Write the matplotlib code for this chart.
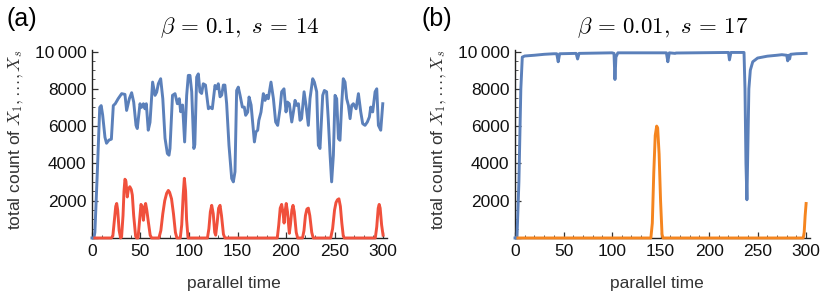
import numpy as np
import matplotlib
matplotlib.use("Agg")
import matplotlib.pyplot as plt
from matplotlib.ticker import MultipleLocator, FuncFormatter

plt.rcParams['font.family'] = ['Liberation Sans', 'DejaVu Sans']
plt.rcParams['mathtext.fontset'] = 'cm'

BLUE = "#5b80ba"
RED = "#f0503c"
ORANGE = "#f5851f"

# panel (a): beta = 0.1, s = 14
a_blue_t = [0, 2, 3, 5.5, 8, 9.5, 11, 13.4, 15, 17.5, 20, 22, 24, 27, 30.6, 34, 35.7, 38.5, 40.9, 43,
            45.4, 46.7, 49.5, 51, 53, 54.6, 56, 58, 59.8, 62.5, 65, 66.7, 68.4, 70.8, 73, 75.3, 77.7,
            79.4, 80.4, 83, 85.6, 88, 90, 91.4, 93.4, 95.5, 97.6, 99.3, 101, 102.8, 105, 106, 107.9,
            109.6, 111.3, 113, 114.7, 117, 120, 121.6, 124, 126.8, 128.5, 130.2, 132, 133.7, 135.4, 137,
            138.8, 141.2, 144, 145.7, 147.4, 149.1, 150.8, 152.6, 155, 157, 158.4, 160.5, 161.9, 164,
            165.6, 167.4, 169, 170.8, 172, 174.2, 176.6, 178.4, 180, 181.7, 184.5, 187, 189.3, 191.4,
            193.8, 195.5, 197.9, 200, 201.4, 203.4, 205.9, 207.6, 209.3, 211, 212.8, 214.4, 216, 218.6,
            220.6, 223, 224.7, 227.5, 229.2, 231.6, 233.3, 235, 237.8, 239.5, 241.8, 243.5, 245.4, 247,
            248.8, 250.5, 252.2, 254, 255.6, 257.3, 259, 260.8, 262.5, 264.3, 266, 267.7, 269.4, 272.2,
            274.6, 277, 279, 281.4, 283.8, 285.9, 287.3, 289.3, 291.8, 293.5, 295.2, 297.6, 299.7]
a_blue_v = [0, 0, 300, 3500, 7000, 7100, 6600, 5400, 5080, 5250, 5300, 7100, 7200, 7470, 7740, 7700, 6840,
            7470, 7790, 7290, 6040, 5870, 7200, 7000, 7200, 6930, 7200, 5780, 6200, 8360, 7650, 7820, 8270,
            8540, 7470, 5350, 4530, 4440, 4800, 7650, 7740, 7200, 7470, 6770, 7130, 5150, 7650, 8720, 8720,
            7840, 4800, 5000, 8630, 8800, 7840, 7750, 8270, 8200, 6930, 7020, 6930, 8180, 8000, 8270, 7570,
            7660, 8200, 8200, 7200, 4970, 3190, 3010, 3550, 7910, 8090, 7660, 7020, 7020, 6580, 6750, 7560,
            7130, 6220, 5150, 5690, 5780, 6310, 6750, 7740, 7380, 7650, 7470, 8360, 7470, 6220, 6040, 6930,
            7840, 8000, 6760, 7290, 7200, 6220, 6760, 7380, 7110, 7200, 6310, 6400, 7840, 7110, 6040, 7470,
            8540, 8360, 7840, 4970, 4800, 7650, 7910, 7840, 6400, 4440, 3010, 4440, 7650, 7470, 5330, 5240,
            7110, 8540, 8360, 7470, 7110, 6400, 7110, 7200, 6930, 7740, 6760, 6130, 6040, 6220, 6490, 7020,
            6760, 7840, 8000, 6040, 5780, 7200]

a_red_t = [3, 20, 21.5, 23, 24.5, 25.5, 26.5, 28, 29.5,
           30.5, 32, 33, 34, 35, 36.4, 37.5, 39, 40.5, 41.6, 43, 45, 46,
           47.5, 49, 50.5, 51.5, 53, 54.5, 55.3, 56.5, 58, 60, 61.5,
           69, 71, 73, 75, 77, 78.7, 80, 82, 84, 86, 87.5,
           91, 92.5, 94, 95.2, 96.5, 97.5, 99,
           119, 120.5, 122, 123.4, 125, 126.5, 127.5, 129, 130.5, 132, 133.5, 135.5, 137,
           191, 192.5, 194, 195.5, 197, 198, 199, 200.2, 201.5, 203.4, 204.5, 206, 207.2, 208.5, 210.5, 212,
           217, 218.5, 220, 221.5, 223, 224.5, 226.5, 228,
           246, 248, 250, 251.5, 253, 254.5, 256, 257.5, 259, 260,
           292, 293.5, 295, 296, 297, 298.5, 300]
a_red_v = [0, 0, 100, 900, 1700, 1850, 1500, 400, 0,
           50, 1200, 2500, 3150, 3050, 2200, 2600, 2750, 2600, 2300, 1200, 100, 0,
           0, 900, 1800, 1700, 950, 1700, 1850, 1500, 900, 150, 0,
           0, 400, 1300, 2000, 2400, 2550, 2450, 2100, 1300, 300, 0,
           0, 700, 2300, 3200, 2500, 1000, 0,
           0, 500, 1400, 1750, 1300, 300, 150, 800, 1600, 1750, 1200, 200, 0,
           0, 700, 1600, 1800, 1300, 800, 1400, 1850, 1400, 250, 700, 1500, 1750, 1400, 300, 0,
           0, 400, 1200, 1550, 1600, 1200, 300, 0,
           0, 500, 1500, 1900, 2050, 2100, 1700, 800, 100, 0,
           0, 600, 1600, 1800, 1600, 700, 150]

# panel (b): beta = 0.01, s = 17
b_blue_t = [0, 2, 4, 6, 7.5, 10, 20, 30, 40, 43, 44.5, 46, 63, 64.5, 66, 100, 102, 103, 104, 106,
            156, 157.5, 159, 165, 166, 220, 221, 222.5, 236, 237, 238, 239, 240, 241, 242.5, 245,
            250, 260, 270, 275, 280, 281, 282, 283, 284, 290, 300]
b_blue_v = [0, 0, 3000, 8000, 9700, 9760, 9800, 9850, 9880, 9880, 9450, 9880, 9900, 9600, 9900, 9930,
            9900, 8500, 9700, 9930, 9930, 9450, 9930, 9900, 9920, 9950, 9550, 9950, 9950, 8000, 4000,
            2050, 5000, 8000, 9000, 9450, 9650, 9750, 9800, 9830, 9800, 9500, 9800, 9600, 9850, 9880, 9900]

b_orange_t = [3, 140, 141.5, 143, 144.5, 146, 147, 148.5, 150, 151.5, 152.5, 297, 298, 299, 300]
b_orange_v = [0, 0, 800, 3500, 5500, 6000, 5900, 4500, 2000, 200, 0, 0, 300, 1200, 1850]


def fmt(v, pos):
    if v == 0:
        return ""
    if v >= 10000:
        return "10\u2009000"
    return f"{v:.0f}"


def style_axes(ax):
    ax.set_xlim(0, 304)
    ax.set_ylim(0, 10080)
    for s in ["top", "right"]:
        ax.spines[s].set_visible(False)
    for s in ["left", "bottom"]:
        ax.spines[s].set_color("#222222")
        ax.spines[s].set_linewidth(1.0)
    ax.xaxis.set_major_locator(MultipleLocator(50))
    ax.xaxis.set_minor_locator(MultipleLocator(10))
    ax.yaxis.set_major_locator(MultipleLocator(2000))
    ax.yaxis.set_minor_locator(MultipleLocator(500))
    ax.yaxis.set_major_formatter(FuncFormatter(fmt))
    ax.tick_params(which="major", direction="in", length=4, width=0.9, labelsize=12.5,
                   color="#333333", labelcolor="#111111", pad=4)
    ax.tick_params(which="minor", direction="in", length=2.2, width=0.7, color="#555555")
    ax.set_xlabel("parallel time", fontsize=12.5, color="#333333")
    ax.xaxis.set_label_coords(0.48, -0.2)
    ax.set_ylabel(r"total count of $X_1,\ldots,X_s$", fontsize=12.5, color="#333333")
    ax.yaxis.set_label_coords(-0.225, 0.52)


fig = plt.figure(figsize=(8.3, 2.96), dpi=100)
ax1 = fig.add_axes([0.1108, 0.196, 0.3554, 0.635])
ax2 = fig.add_axes([0.6205, 0.196, 0.3554, 0.635])

ax1.plot(a_blue_t, a_blue_v, color=BLUE, lw=2.1, zorder=3, clip_on=False)
ax1.plot(a_red_t, a_red_v, color=RED, lw=2.1, zorder=3, clip_on=False)
ax2.plot(b_blue_t, b_blue_v, color=BLUE, lw=2.1, zorder=3, clip_on=False)
ax2.plot(b_orange_t, b_orange_v, color=ORANGE, lw=2.1, zorder=3, clip_on=False)

for ax in (ax1, ax2):
    style_axes(ax)

ax1.set_title(r"$\beta\,=\,0.1,\ s\,=\,14$", fontsize=16.5, pad=12)
ax2.set_title(r"$\beta\,=\,0.01,\ s\,=\,17$", fontsize=16.5, pad=12)

fig.text(0.008, 0.935, "(a)", fontsize=18, va="center", ha="left")
fig.text(0.508, 0.935, "(b)", fontsize=18, va="center", ha="left")

fig.savefig("out.png", dpi=100)
